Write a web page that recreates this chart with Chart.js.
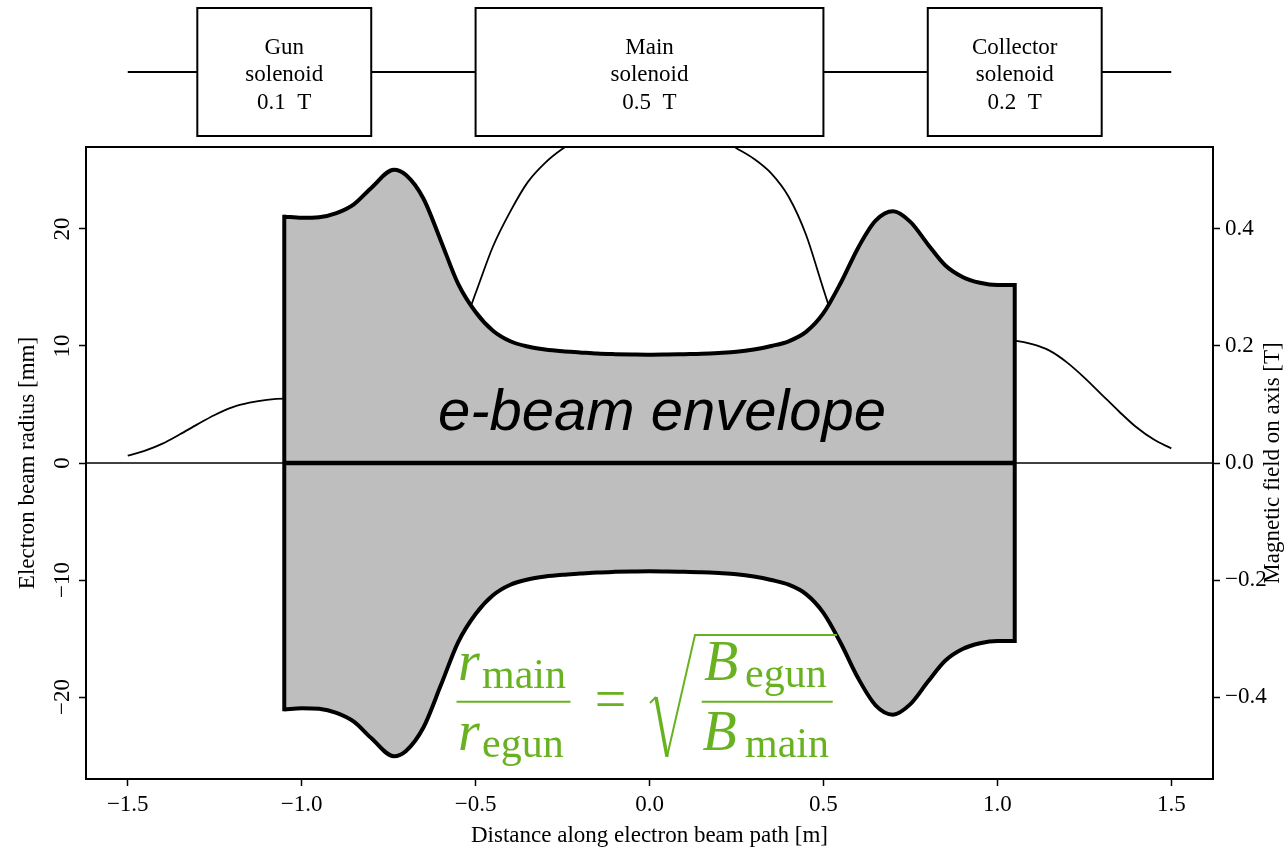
<!DOCTYPE html>
<html><head><meta charset="utf-8">
<script src="https://cdn.jsdelivr.net/npm/chart.js@4"></script>
<style>html,body{margin:0;padding:0;background:#fff}canvas{display:block}</style>
</head><body>
<canvas id="c" width="1286" height="851"></canvas>
<script>
// ---- data ----
const envX     = [-1.05,-1.0,-0.95,-0.9,-0.85,-0.8,-0.735,-0.7,-0.65,-0.6,-0.55,-0.5,-0.45,-0.4,-0.35,-0.3,-0.25,-0.2,-0.15,-0.1,-0.05,0,0.05,0.1,0.15,0.2,0.25,0.3,0.35,0.4,0.45,0.5,0.55,0.6,0.65,0.7,0.75,0.8,0.85,0.9,0.95,1.0,1.05];
const envUpper = [21.05,20.95,21.0,21.35,22.1,23.5,25.05,24.6,22.6,19.0,15.3,12.9,11.3,10.4,9.95,9.7,9.55,9.45,9.35,9.3,9.27,9.25,9.27,9.3,9.33,9.4,9.5,9.7,10.0,10.4,11.2,12.8,15.4,18.4,20.7,21.5,20.6,18.7,16.9,15.9,15.4,15.2,15.2];
const envLower = [-21.05,-20.95,-21.0,-21.35,-22.1,-23.5,-25.05,-24.6,-22.6,-19.0,-15.3,-12.9,-11.3,-10.4,-9.95,-9.7,-9.55,-9.45,-9.35,-9.3,-9.27,-9.25,-9.27,-9.3,-9.33,-9.4,-9.5,-9.7,-10.0,-10.4,-11.2,-12.8,-15.4,-18.4,-20.7,-21.5,-20.6,-18.7,-16.9,-15.9,-15.4,-15.2,-15.2];
const fieldX   = [-1.5,-1.45,-1.4,-1.35,-1.3,-1.25,-1.2,-1.15,-1.1,-1.05,-1.0,-0.95,-0.9,-0.85,-0.8,-0.75,-0.7,-0.65,-0.6,-0.55,-0.5,-0.45,-0.4,-0.35,-0.3,-0.25,-0.2,-0.15,-0.1,-0.05,0,0.05,0.1,0.15,0.2,0.25,0.3,0.35,0.4,0.45,0.5,0.55,0.6,0.65,0.7,0.75,0.8,0.85,0.9,0.95,1.0,1.05,1.1,1.15,1.2,1.25,1.3,1.35,1.4,1.45,1.5];
const fieldT   = [0.0125,0.021,0.033,0.049,0.066,0.082,0.095,0.103,0.108,0.11,0.11,0.105,0.1,0.095,0.092,0.093,0.1,0.125,0.16,0.21,0.29,0.37,0.43,0.48,0.513,0.537,0.555,0.565,0.57,0.574,0.575,0.574,0.57,0.565,0.555,0.538,0.52,0.495,0.455,0.39,0.297,0.21,0.16,0.15,0.165,0.18,0.195,0.205,0.21,0.212,0.211,0.209,0.203,0.192,0.172,0.146,0.117,0.088,0.061,0.04,0.025];
const xTicks = [-1.5,-1.0,-0.5,0,0.5,1.0,1.5];
const xTickLabels = ['\u22121.5','\u22121.0','\u22120.5','0.0','0.5','1.0','1.5'];
const yTicks = [-20,-10,0,10,20];
const yTickLabels = ['\u221220','\u221210','0','10','20'];
const y1Ticks = [-0.4,-0.2,0,0.2,0.4];
const y1TickLabels = ['\u22120.4','\u22120.2','0.0','0.2','0.4'];
const solenoidNames = ['Gun','Main','Collector'];
const solenoidFields = ['0.1  T','0.5  T','0.2  T'];
const solenoidStart = [-1.3,-0.5,0.8];
const solenoidEnd = [-0.8,0.5,1.3];
const beamlineRange = [-1.5,1.5];

const xyPairs = (xs, ys) => xs.map((x, i) => ({x: x, y: ys[i]}));
const SERIF = '"Liberation Serif", "Times New Roman", serif';
const GREEN = 'rgb(104,178,34)';
const nLast = envX.length - 1;

const deco = {
  id: 'deco',
  afterDatasetsDraw(chart) {
    const ctx = chart.ctx, xs = chart.scales.x, ys = chart.scales.y;
    ctx.save();
    ctx.fillStyle = '#000';
    ctx.font = 'italic 58px "Liberation Sans", Arial, sans-serif';
    ctx.textAlign = 'center';
    ctx.textBaseline = 'alphabetic';
    ctx.fillText('e-beam envelope', xs.getPixelForValue(0.036), ys.getPixelForValue(2.8));
    // formula
    const ax = xs.getPixelForValue(0), ay = ys.getPixelForValue(-20.4);
    ctx.fillStyle = GREEN; ctx.strokeStyle = GREEN;
    ctx.textAlign = 'left';
    const big = 'italic 56px ' + SERIF, sub = '42px ' + SERIF;
    const put = (t, f, dx, dy) => { ctx.font = f; ctx.fillText(t, ax + dx, ay + dy); };
    put('r', big, -191.5, -21.7);
    put('main', sub, -167.5, -13.7);
    put('r', big, -191.5, 48.3);
    put('egun', sub, -167.5, 55);
    put('B', big, 54.5, -21.7);
    put('egun', sub, 95.5, -14.4);
    put('B', big, 53, 48.3);
    put('main', sub, 95.5, 55);
    ctx.textAlign = 'center';
    put('=', '56px ' + SERIF, -39, 16);
    ctx.lineWidth = 2;
    ctx.beginPath();
    ctx.moveTo(ax - 193, ay); ctx.lineTo(ax - 79, ay);
    ctx.moveTo(ax + 52.2, ay); ctx.lineTo(ax + 183.2, ay);
    ctx.stroke();
    ctx.lineJoin = 'miter';
    ctx.beginPath();
    ctx.moveTo(ax + 0.5, ay + 1.3); ctx.lineTo(ax + 6.5, ay - 4.7);
    ctx.stroke();
    ctx.lineWidth = 3.5;
    ctx.beginPath();
    ctx.moveTo(ax + 6.5, ay - 4.7); ctx.lineTo(ax + 17.5, ay + 55);
    ctx.stroke();
    ctx.lineWidth = 2;
    ctx.beginPath();
    ctx.moveTo(ax + 17.5, ay + 55); ctx.lineTo(ax + 45.5, ay - 66.7); ctx.lineTo(ax + 187.5, ay - 66.7);
    ctx.stroke();
    ctx.restore();
  },
  afterDraw(chart) {
    const ctx = chart.ctx, a = chart.chartArea, xs = chart.scales.x, ys = chart.scales.y;
    ctx.save();
    ctx.strokeStyle = '#000'; ctx.fillStyle = '#000';
    ctx.lineWidth = 2;
    ctx.strokeRect(a.left, a.top, a.right - a.left, a.bottom - a.top);
    ctx.font = '23px ' + SERIF;
    ctx.textAlign = 'center'; ctx.textBaseline = 'alphabetic';
    ys.ticks.forEach((t, i) => {
      ctx.save();
      ctx.translate(69, ys.getPixelForValue(t.value));
      ctx.rotate(-Math.PI / 2);
      ctx.fillText(yTickLabels[i], 0, 0);
      ctx.restore();
    });
    ctx.save(); ctx.translate(34, (a.top + a.bottom) / 2); ctx.rotate(-Math.PI / 2);
    ctx.fillText('Electron beam radius [mm]', 0, 0); ctx.restore();
    ctx.save(); ctx.translate(1279, (a.top + a.bottom) / 2); ctx.rotate(-Math.PI / 2);
    ctx.fillText('Magnetic field on axis [T]', 0, 0); ctx.restore();
    ctx.fillText('Distance along electron beam path [m]', (a.left + a.right) / 2, 842);
    const top = 8, bot = 136, mid = 72;
    ctx.lineWidth = 2;
    ctx.beginPath();
    ctx.moveTo(xs.getPixelForValue(beamlineRange[0]), mid);
    solenoidStart.forEach((s, i) => {
      ctx.lineTo(xs.getPixelForValue(s), mid);
      ctx.moveTo(xs.getPixelForValue(solenoidEnd[i]), mid);
    });
    ctx.lineTo(xs.getPixelForValue(beamlineRange[1]), mid);
    ctx.stroke();
    solenoidStart.forEach((s, i) => {
      const l = xs.getPixelForValue(s), r = xs.getPixelForValue(solenoidEnd[i]);
      ctx.strokeRect(l, top, r - l, bot - top);
      const cx = (l + r) / 2;
      ctx.fillText(solenoidNames[i], cx, 53.5);
      ctx.fillText('solenoid', cx, 81);
      ctx.fillText(solenoidFields[i], cx, 108.5);
    });
    ctx.restore();
  }
};

const tickFont = {family: '"Liberation Serif", "Times New Roman", serif', size: 23};
const gridOpts = {drawOnChartArea: false, drawTicks: true, tickLength: 7, tickWidth: 1.5, tickColor: '#000'};
const curve = {pointRadius: 0, cubicInterpolationMode: 'monotone', borderJoinStyle: 'round', borderColor: '#000'};

new Chart(document.getElementById('c'), {
  type: 'line',
  data: {
    datasets: [
      {label: 'zero', data: [{x: -1.62, y: 0}, {x: 1.62, y: 0}], borderColor: '#000', borderWidth: 1.5, pointRadius: 0, order: 20, yAxisID: 'y'},
      Object.assign({label: 'field', data: xyPairs(fieldX, fieldT), yAxisID: 'y1', borderWidth: 1.8, order: 10}, curve),
      Object.assign({label: 'upper', data: xyPairs(envX, envUpper), yAxisID: 'y', borderWidth: 4, fill: 3, backgroundColor: '#bebebe', order: 6}, curve),
      Object.assign({label: 'lower', data: xyPairs(envX, envLower), yAxisID: 'y', borderWidth: 4, fill: false, order: 5}, curve),
      {label: 'axis', data: [{x: envX[0], y: 0}, {x: envX[nLast], y: 0}], yAxisID: 'y', borderColor: '#000', borderWidth: 4.5, pointRadius: 0, order: 1},
      {label: 'edgeL', data: [{x: envX[0], y: envLower[0]}, {x: envX[0], y: envUpper[0]}], yAxisID: 'y', borderColor: '#000', borderWidth: 4, borderCapStyle: 'square', pointRadius: 0, order: 1},
      {label: 'edgeR', data: [{x: envX[nLast], y: envLower[nLast]}, {x: envX[nLast], y: envUpper[nLast]}], yAxisID: 'y', borderColor: '#000', borderWidth: 4, borderCapStyle: 'square', pointRadius: 0, order: 1}
    ]
  },
  options: {
    responsive: false,
    animation: false,
    events: [],
    devicePixelRatio: 1,
    layout: {padding: {top: 147, left: 0, right: 0, bottom: 0}},
    plugins: {legend: {display: false}, tooltip: {enabled: false}, title: {display: false}},
    scales: {
      x: {
        type: 'linear', min: -1.62, max: 1.62,
        afterBuildTicks: s => { s.ticks = xTicks.map(v => ({value: v})); },
        afterFit: s => { s.height = 72; },
        ticks: {callback: (v, i) => xTickLabels[i], font: tickFont, color: '#000', padding: 5, maxRotation: 0, minRotation: 0, autoSkip: false},
        grid: gridOpts,
        border: {display: false}
      },
      y: {
        type: 'linear', position: 'left', min: -27, max: 27,
        afterBuildTicks: s => { s.ticks = yTicks.map(v => ({value: v})); },
        afterFit: s => { s.width = 86; },
        ticks: {callback: (v, i) => yTickLabels[i], font: tickFont, color: 'rgba(0,0,0,0)', padding: 5, autoSkip: false},
        grid: gridOpts,
        border: {display: false}
      },
      y1: {
        type: 'linear', position: 'right', min: -0.54, max: 0.54,
        afterBuildTicks: s => { s.ticks = y1Ticks.map(v => ({value: v})); },
        afterFit: s => { s.width = 73; },
        ticks: {callback: (v, i) => y1TickLabels[i], font: tickFont, color: '#000', padding: 5, autoSkip: false},
        grid: gridOpts,
        border: {display: false}
      }
    }
  },
  plugins: [deco]
});
</script>
</body></html>
